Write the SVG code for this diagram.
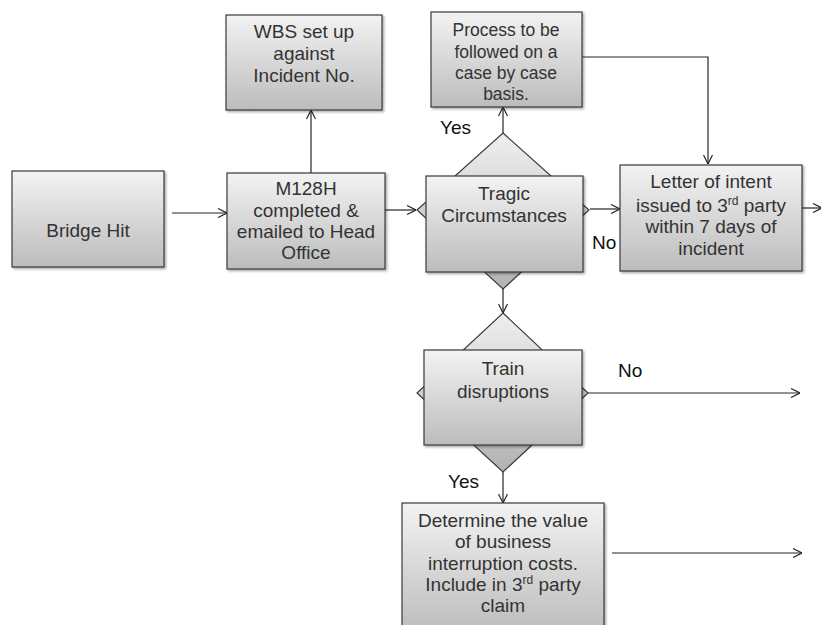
<svg xmlns="http://www.w3.org/2000/svg" width="821" height="625" viewBox="0 0 821 625">
<style>
.box{fill:url(#boxg);stroke:#3a3a3a;stroke-width:1.2;filter:url(#sh)}
.dia{fill:url(#diag);stroke:#3a3a3a;stroke-width:1.2}
.t{font-family:"Liberation Sans",Arial,sans-serif;font-size:19px;fill:#333;text-anchor:middle}
.s{font-size:17.5px}
.lbl{font-family:"Liberation Sans",Arial,sans-serif;font-size:19px;fill:#111}
.c{fill:none;stroke:#262626;stroke-width:1.2;marker-end:url(#ah)}
</style>
<defs>
<linearGradient id="boxg" x1="0" y1="0" x2="0" y2="1">
<stop offset="0" stop-color="#f3f3f3"/>
<stop offset="1" stop-color="#bcbcbc"/>
</linearGradient>
<linearGradient id="diag" x1="0" y1="0" x2="0" y2="1">
<stop offset="0" stop-color="#efefef"/>
<stop offset="1" stop-color="#b2b2b2"/>
</linearGradient>
<filter id="sh" x="-10%" y="-10%" width="125%" height="125%">
<feDropShadow dx="1.5" dy="1.5" stdDeviation="1" flood-color="#000" flood-opacity="0.35"/>
</filter>
<marker id="ah" viewBox="0 0 10 10" refX="10" refY="5" markerWidth="10" markerHeight="10" markerUnits="userSpaceOnUse" orient="auto">
<path d="M1,0.5 L10,5 L1,9.5" fill="none" stroke="#262626" stroke-width="1.2"/>
</marker>
</defs>

<g id="connectors">
<path class="c" d="M172,213 H227"/>
<path class="c" d="M385,210 H416"/>
<path class="c" d="M311,173 V110"/>
<path class="c" d="M503,133 V107"/>
<path class="c" d="M582,57 H708 V164"/>
<path class="c" d="M590,209 H620"/>
<path class="c" d="M802,208 H822"/>
<path class="c" d="M503,289 V313"/>
<path class="c" d="M588,393 H800"/>
<path class="c" d="M503,472 V503"/>
<path class="c" d="M612,553 H802"/>
</g>

<g id="labels">
<text class="lbl" x="440" y="134">Yes</text>
<text class="lbl" x="592" y="249">No</text>
<text class="lbl" x="618" y="377">No</text>
<text class="lbl" x="448" y="488">Yes</text>
</g>

<g id="bridge-hit">
<rect class="box" x="12" y="171" width="152" height="96"/>
<text class="t" x="88" y="237">Bridge Hit</text>
</g>

<g id="m128h">
<rect class="box" x="227" y="173" width="158" height="96"/>
<text class="t" x="306" y="195">M128H</text>
<text class="t" x="306" y="217">completed &amp;</text>
<text class="t" x="306" y="238">emailed to Head</text>
<text class="t" x="306" y="259">Office</text>
</g>

<g id="wbs">
<rect class="box" x="226" y="15" width="156" height="95"/>
<text class="t" x="304" y="38">WBS set up</text>
<text class="t" x="304" y="60">against</text>
<text class="t" x="304" y="82">Incident No.</text>
</g>

<g id="process">
<rect class="box" x="431" y="12" width="151" height="95"/>
<text class="t s" x="506" y="36">Process to be</text>
<text class="t s" x="506" y="58">followed on a</text>
<text class="t s" x="506" y="79">case by case</text>
<text class="t s" x="506" y="100">basis.</text>
</g>

<g id="tragic">
<polygon class="dia" points="503,133 589,210 503,289 417,210"/>
<rect class="box" x="426" y="176" width="157" height="96"/>
<text class="t" x="504" y="200">Tragic</text>
<text class="t" x="504" y="222">Circumstances</text>
</g>

<g id="letter">
<rect class="box" x="620" y="165" width="182" height="106"/>
<text class="t" x="711" y="188">Letter of intent</text>
<text class="t" x="711" y="212">issued to 3<tspan font-size="12" dy="-7">rd</tspan><tspan dy="7"> party</tspan></text>
<text class="t" x="711" y="233">within 7 days of</text>
<text class="t" x="711" y="255">incident</text>
</g>

<g id="train">
<polygon class="dia" points="503,313 588,393 503,472 417,393"/>
<rect class="box" x="424" y="350" width="158" height="95"/>
<text class="t" x="503" y="375">Train</text>
<text class="t" x="503" y="398">disruptions</text>
</g>

<g id="determine">
<rect class="box" x="402" y="503" width="202" height="130"/>
<text class="t" x="503" y="527">Determine the value</text>
<text class="t" x="503" y="548">of business</text>
<text class="t" x="503" y="570">interruption costs.</text>
<text class="t" x="503" y="591">Include in 3<tspan font-size="12" dy="-7">rd</tspan><tspan dy="7"> party</tspan></text>
<text class="t" x="503" y="612">claim</text>
</g>
</svg>
